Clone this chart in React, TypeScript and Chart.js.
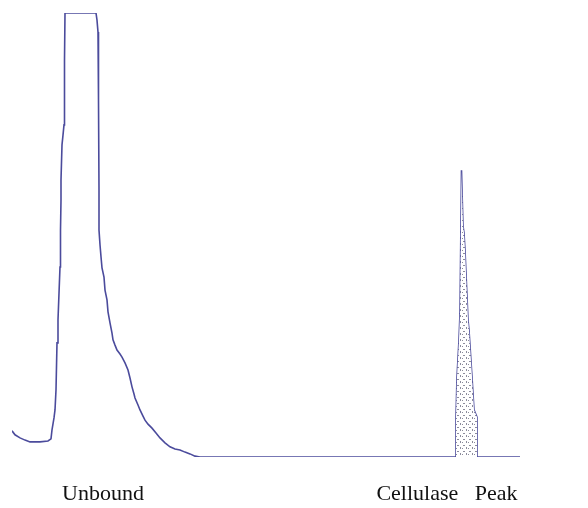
import React, { useEffect, useRef } from "react";
import { Chart, registerables } from "chart.js";

Chart.register(...registerables);

// Elution volume (arbitrary units) and absorbance (% of full scale)
const volume: number[] = [
  0, 0.6, 1.6, 2.6, 3.6, 5.6, 7.2, 7.8, 8.0, 8.4, 8.6, 8.8, 9.0, 9.2, 9.4, 9.6, 9.7, 9.8, 9.8, 10.0,
  10.2, 10.4, 10.5, 10.6, 16.8, 17.0, 17.2, 17.3, 17.4, 17.4, 17.6, 17.8, 18.0, 18.4, 18.6, 19.0,
  19.2, 19.6, 20.0, 20.2, 20.6, 21.0, 21.6, 22.0, 22.6, 23.2, 23.6, 24.0, 24.4, 24.6, 25.2, 25.6,
  26.2, 26.6, 27.2, 28.0, 28.8, 29.6, 30.6, 31.6, 32.6, 33.6, 34.6, 35.6, 36.6, 37.6, 88.8,
];
const absorbance: number[] = [
  5.9, 5.0, 4.3, 3.8, 3.4, 3.4, 3.6, 4.1, 6.1, 8.8, 10.6, 15.1, 25.7, 30.9, 36.9, 42.8, 51.1, 57.9, 62.4, 70.3,
  72.5, 74.8, 89.4, 100, 100, 98.4, 95.7, 80.4, 60.1, 51.1, 47.8, 45.1, 42.6, 40.5, 37.6, 35.4,
  32.7, 30.2, 27.9, 26.4, 25.2, 24.1, 23.2, 22.5, 21.2, 19.6, 17.8, 15.8, 14.2, 13.3, 11.7, 10.6,
  9.2, 8.3, 7.4, 6.5, 5.4, 4.3, 3.2, 2.3, 1.8, 1.6, 1.1, 0.7, 0.2, 0, 0,
];
// Cellulase peak
const peakVolume: number[] = [88.8, 88.8, 89.0, 89.4, 89.6, 89.9, 90.0, 90.2, 90.4, 90.6, 91.2, 91.4, 92.0, 92.4, 93.0, 93.0];
const peakAbsorbance: number[] = [0, 9.0, 18.0, 26.4, 32.4, 64.6, 60.1, 52.0, 50.5, 46.6, 30.9, 28.6, 18.0, 10.6, 9.0, 0];
const tailVolume: number[] = [93.0, 101.6];
const tailAbsorbance: number[] = [0, 0];

const labelNames: string[] = ["Unbound", "Cellulase   Peak"];
const labelVolumes: number[] = [18.2, 87.0];

function makeStipple(): CanvasPattern | string {
  const c = document.createElement("canvas");
  c.width = 6;
  c.height = 6;
  const g = c.getContext("2d");
  if (!g) return "#ffffff";
  g.fillStyle = "#ffffff";
  g.fillRect(0, 0, 6, 6);
  g.fillStyle = "#8c8c9c";
  g.fillRect(1, 1, 2, 1);
  g.fillRect(4, 3, 1, 2);
  g.fillRect(0, 4, 1, 1);
  const p = g.createPattern(c, "repeat");
  return p || "#ffffff";
}

export default function App() {
  const ref = useRef<HTMLCanvasElement | null>(null);

  useEffect(() => {
    if (!ref.current) return;
    const main = volume.map((v, i) => ({ x: v, y: absorbance[i] }));
    const peak = peakVolume.map((v, i) => ({ x: v, y: peakAbsorbance[i] }));
    const tail = tailVolume.map((v, i) => ({ x: v, y: tailAbsorbance[i] }));
    const line = main.concat(peak.slice(1)).concat(tail.slice(1));

    const chart = new Chart(ref.current, {
      type: "scatter",
      data: {
        datasets: [
          {
            data: peak,
            showLine: true,
            borderWidth: 0,
            pointRadius: 0,
            fill: "origin",
            backgroundColor: makeStipple() as any,
            borderColor: "rgba(0,0,0,0)",
          },
          {
            data: line,
            showLine: true,
            borderWidth: 1.6,
            borderColor: "#4b4b9c",
            pointRadius: 0,
            fill: false,
            tension: 0,
          },
        ],
      },
      options: {
        animation: false,
        responsive: true,
        maintainAspectRatio: false,
        layout: { padding: { left: 12, right: 68, top: 13, bottom: 0 } },
        plugins: { legend: { display: false }, tooltip: { enabled: false } },
        scales: {
          x: {
            type: "linear",
            min: 0,
            max: 101.6,
            grid: { display: false, drawTicks: false },
            border: { display: false },
            afterFit: (scale: any) => {
              scale.height = 51;
            },
            afterBuildTicks: (scale: any) => {
              scale.ticks = labelVolumes.map((v) => ({ value: v }));
            },
            ticks: {
              autoSkip: false,
              maxRotation: 0,
              padding: 24,
              color: "#111111",
              font: { family: "'Liberation Serif', 'DejaVu Serif', serif", size: 22 },
              callback: (_v: any, i: number) => labelNames[i],
            },
          },
          y: {
            display: false,
            min: 0,
            max: 100,
          },
        },
      },
    });
    return () => chart.destroy();
  }, []);

  return (
    <div style={{ position: "absolute", left: 0, top: 0, width: 588, height: 508, background: "#ffffff" }}>
      <canvas ref={ref} />
    </div>
  );
}
